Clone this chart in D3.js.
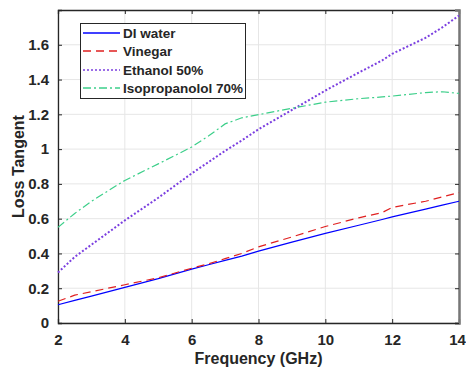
<!DOCTYPE html>
<html>
<head>
<meta charset="utf-8">
<script src="https://cdn.jsdelivr.net/npm/d3@7"></script>
<style>
  body { margin: 0; background: #fff; }
  text { font-family: "Liberation Sans", Arial, sans-serif; font-weight: bold; fill: #262626; }
</style>
</head>
<body>
<div id="chart"></div>
<script>
// values
var freq = [2, 2.5, 3, 4, 5, 6, 6.5, 7, 7.5, 8, 9, 10, 11, 11.7, 12, 13, 13.5, 14];
var diWater =     [0.105, 0.13, 0.155, 0.205, 0.255, 0.31, 0.335, 0.36, 0.385, 0.413, 0.465, 0.515, 0.562, 0.595, 0.61, 0.655, 0.678, 0.70];
var vinegar =     [0.125, 0.16, 0.18, 0.22, 0.26, 0.315, 0.34, 0.37, 0.40, 0.438, 0.495, 0.555, 0.605, 0.635, 0.665, 0.70, 0.725, 0.75];
var ethanol =     [0.29, 0.38, 0.45, 0.59, 0.72, 0.86, 0.925, 0.99, 1.05, 1.114, 1.225, 1.337, 1.44, 1.51, 1.548, 1.64, 1.70, 1.768];
var isopropanol = [0.55, 0.63, 0.70, 0.82, 0.915, 1.012, 1.075, 1.145, 1.18, 1.198, 1.235, 1.27, 1.29, 1.30, 1.305, 1.325, 1.33, 1.32];

var seriesNames = ["DI water", "Vinegar", "Ethanol 50%", "Isopropanolol 70%"];
var seriesValues = [diWater, vinegar, ethanol, isopropanol];
var seriesColors = ["#0000ff", "#e02020", "#7b3fe0", "#3ccf8a"];
var seriesDash = [null, "8,5", "2,2", "8,3,2,3"];

var xTicks = [2, 4, 6, 8, 10, 12, 14];
var yTicks = [0, 0.2, 0.4, 0.6, 0.8, 1, 1.2, 1.4, 1.6];

var W = 466, H = 371;
var margin = {left: 58, right: 7, top: 10, bottom: 48};

var svg = d3.select("#chart").append("svg")
    .attr("width", W)
    .attr("height", H);

var x = d3.scaleLinear().domain([2, 14]).range([margin.left, W - margin.right]);
var y = d3.scaleLinear().domain([0, 1.8]).range([H - margin.bottom, margin.top]);

// grid
svg.append("g").selectAll("line.gx")
  .data(xTicks).enter().append("line")
  .attr("x1", function(d) { return x(d); })
  .attr("x2", function(d) { return x(d); })
  .attr("y1", y(0)).attr("y2", y(1.8))
  .style("stroke", "#e6e6e6").style("stroke-width", 1);

svg.append("g").selectAll("line.gy")
  .data(yTicks).enter().append("line")
  .attr("x1", x(2)).attr("x2", x(14))
  .attr("y1", function(d) { return y(d); })
  .attr("y2", function(d) { return y(d); })
  .style("stroke", "#e6e6e6").style("stroke-width", 1);

// axes (ticks inside, box on)
var fmt = function(d) { return d3.format("~g")(d); };
var axBottom = svg.append("g")
  .attr("transform", "translate(0," + y(0) + ")")
  .call(d3.axisBottom(x).tickValues(xTicks).tickSize(-4).tickPadding(11).tickFormat(fmt));
var axLeft = svg.append("g")
  .attr("transform", "translate(" + x(2) + ",0)")
  .call(d3.axisLeft(y).tickValues(yTicks).tickSize(-4).tickPadding(9).tickFormat(fmt));
var axTop = svg.append("g")
  .attr("transform", "translate(0," + y(1.8) + ")")
  .call(d3.axisTop(x).tickValues(xTicks).tickSize(-4).tickFormat(""));
var axRight = svg.append("g")
  .attr("transform", "translate(" + x(14) + ",0)")
  .call(d3.axisRight(y).tickValues(yTicks).tickSize(-4).tickFormat(""));

[axBottom, axLeft, axTop, axRight].forEach(function(g) {
  g.selectAll("path").style("stroke", "#262626").style("stroke-width", 1.3);
  g.selectAll("line").style("stroke", "#262626");
  g.selectAll("text").style("font-size", "15px").style("fill", "#262626");
});
axRight.select("path").style("stroke", "#777").style("stroke-width", 2.5);
// last x label sits on the window edge, pull it in a touch
axBottom.selectAll(".tick text").filter(function(d) { return d == 14; }).attr("dx", "-2");

// lines
var line = d3.line()
  .x(function(d, i) { return x(freq[i]); })
  .y(function(d) { return y(d); });

seriesValues.forEach(function(vals, k) {
  svg.append("path")
    .datum(vals)
    .attr("d", line)
    .style("fill", "none")
    .style("stroke", seriesColors[k])
    .style("stroke-width", k == 2 ? 2 : 1.2)
    .style("stroke-dasharray", seriesDash[k]);
});

// axis titles
svg.append("text")
  .attr("x", (x(2) + x(14)) / 2)
  .attr("y", H - 7)
  .attr("text-anchor", "middle")
  .style("font-size", "16px")
  .text("Frequency (GHz)");

svg.append("text")
  .attr("transform", "translate(24," + (y(0) + y(1.8)) / 2 + ") rotate(-90)")
  .attr("text-anchor", "middle")
  .style("font-size", "16px")
  .text("Loss Tangent");

// legend
var lg = svg.append("g");
lg.append("rect")
  .attr("x", 80.5).attr("y", 23.5)
  .attr("width", 165).attr("height", 75)
  .style("fill", "#fff").style("stroke", "#262626").style("stroke-width", 1);

seriesNames.forEach(function(name, k) {
  var yy = Math.round(33 + k * 18.3);
  lg.append("line")
    .attr("x1", 83).attr("x2", 120)
    .attr("y1", yy).attr("y2", yy)
    .style("stroke", seriesColors[k])
    .style("stroke-width", 1.6)
    .style("stroke-dasharray", seriesDash[k]);
  lg.append("text")
    .attr("x", 123).attr("y", yy + 5)
    .style("font-size", "13.5px")
    .text(name);
});
</script>
</body>
</html>
